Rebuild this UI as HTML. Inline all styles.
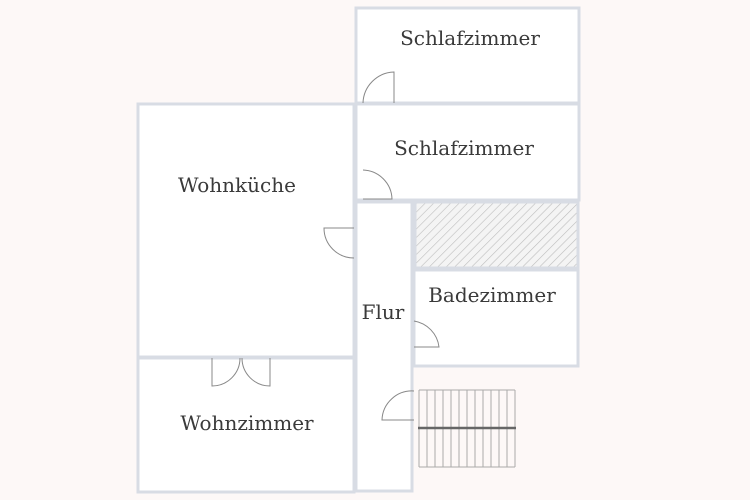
<!DOCTYPE html>
<html><head><style>
html,body{margin:0;padding:0;background:#fdf8f7;}
svg{display:block;}
text{font-family:"DejaVu Serif",serif;font-size:20px;fill:#3a3a3a;text-anchor:middle;}
</style></head><body>
<svg width="750" height="500" viewBox="0 0 750 500" xmlns="http://www.w3.org/2000/svg">
<defs>
<pattern id="h" width="6" height="6" patternUnits="userSpaceOnUse" patternTransform="rotate(45)">
<rect width="6" height="6" fill="#f4f4f4"/><line x1="0" y1="0" x2="0" y2="6" stroke="#bdbdbd" stroke-width="1.2"/>
</pattern>
</defs>
<rect width="750" height="500" fill="#fdf8f7"/>
<g fill="#fff" stroke="#d8dce4" stroke-width="3">
<rect x="356" y="8" width="223" height="95"/>
<rect x="356" y="104" width="223" height="96"/>
<rect x="138" y="104" width="216" height="253"/>
<rect x="138" y="358" width="216" height="134"/>
<rect x="356" y="202" width="56" height="289"/>
<rect x="414" y="270" width="164" height="96"/>
</g>
<rect x="415" y="202" width="163" height="66" fill="url(#h)" stroke="#d8dce4" stroke-width="3"/>
<g fill="none" stroke="#888" stroke-width="1">
<path d="M363,103 A32,32 0 0 1 394,72 L394,103"/>
<path d="M363,170 A30,30 0 0 1 392,199 L363,199"/>
<path d="M354,228 L324,228 A30,30 0 0 0 354,258"/>
<path d="M414,321 A30,30 0 0 1 439,347 L414,347"/>
<path d="M414,391 A30,30 0 0 0 382,420 L414,420"/>
<path d="M212,358 L212,386 A28,28 0 0 0 240,358"/>
<path d="M270,358 L270,386 A28,28 0 0 1 242,358"/>
</g>
<g stroke="#aaa" stroke-width="1">
<line x1="419" y1="390" x2="515" y2="390"/><line x1="419" y1="467" x2="515" y2="467"/>
<line x1="419" y1="390" x2="419" y2="467"/><line x1="427" y1="390" x2="427" y2="467"/>
<line x1="435" y1="390" x2="435" y2="467"/><line x1="443" y1="390" x2="443" y2="467"/>
<line x1="451" y1="390" x2="451" y2="467"/><line x1="459" y1="390" x2="459" y2="467"/>
<line x1="467" y1="390" x2="467" y2="467"/><line x1="475" y1="390" x2="475" y2="467"/>
<line x1="483" y1="390" x2="483" y2="467"/><line x1="491" y1="390" x2="491" y2="467"/>
<line x1="499" y1="390" x2="499" y2="467"/><line x1="507" y1="390" x2="507" y2="467"/>
<line x1="515" y1="390" x2="515" y2="467"/>
</g>
<line x1="418" y1="428" x2="516" y2="428" stroke="#666" stroke-width="2.5"/>
<text x="470" y="45">Schlafzimmer</text>
<text x="464" y="155">Schlafzimmer</text>
<text x="237" y="192">Wohnküche</text>
<text x="383" y="319">Flur</text>
<text x="492" y="302">Badezimmer</text>
<text x="247" y="430">Wohnzimmer</text>
</svg>
</body></html>
